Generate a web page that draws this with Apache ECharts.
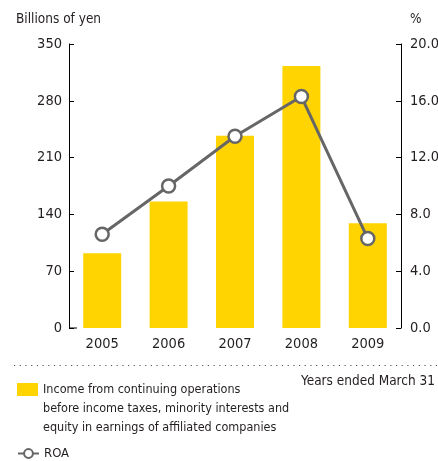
<!DOCTYPE html>
<html>
<head>
<meta charset="utf-8">
<script src="https://cdn.jsdelivr.net/npm/echarts@6/dist/echarts.min.js"></script>
<style>
  html, body { margin: 0; padding: 0; background: #fff; }
  #chart { width: 438px; height: 461px; }
</style>
</head>
<body>
<div id="chart"></div>
<script>
// Fiscal years (ended March 31)
const years = ['2005', '2006', '2007', '2008', '2009'];
// Income from continuing operations before income taxes etc., billions of yen
const incomeValues = [92, 156, 237, 323, 129];
// Return on assets, %
const roaValues = [6.6, 10.0, 13.5, 16.3, 6.3];
// Legend wording
const incomeName = 'Income from continuing operations before income taxes, minority interests and equity in earnings of affiliated companies';
const incomeLegendLines = [
  'Income from continuing operations',
  'before income taxes, minority interests and',
  'equity in earnings of affiliated companies'
];
const roaName = 'ROA';

const FONT = '"Liberation Sans Narrow", "DejaVu Sans Condensed", "Liberation Sans", sans-serif';
const TEXT = '#231f20';
const YELLOW = '#ffd400';
const GREY = '#666666';

const titleStyle = { fontFamily: FONT, fontSize: 13.5, fontWeight: 'normal', color: TEXT };

const chart = echarts.init(document.getElementById('chart'));
chart.setOption({
  animation: false,
  textStyle: { fontFamily: FONT },
  title: [
    { text: 'Billions of yen', left: 16, top: 12, padding: 0, textStyle: titleStyle },
    { text: '%', left: 410, top: 12, padding: 0, textStyle: titleStyle },
    { text: 'Years ended March 31', right: 3, top: 374, padding: 0, textStyle: titleStyle }
  ],
  grid: { left: 69, right: 37, top: 44, bottom: 133, outerBoundsMode: 'none' },
  legend: [
    {
      // two blank lines first, so the swatch sits beside the first line of text
      data: [{ name: incomeName, icon: 'rect' }], left: 17, top: 342, padding: 0,
      itemWidth: 21, itemHeight: 13, selectedMode: false,
      formatter: () => '\n\n' + incomeLegendLines.join('\n'),
      textStyle: { fontFamily: FONT, fontSize: 12.5, color: TEXT, lineHeight: 19 }
    },
    {
      data: [roaName], left: 17, top: 447, padding: 0,
      itemWidth: 21, itemHeight: 11, selectedMode: false,
      textStyle: { fontFamily: FONT, fontSize: 13, color: TEXT }
    }
  ],
  xAxis: {
    type: 'category', data: years,
    axisLine: { show: false }, axisTick: { show: false },
    axisLabel: { color: TEXT, fontSize: 14.5, margin: 9, fontFamily: FONT }
  },
  yAxis: [
    {
      type: 'value', min: 0, max: 350, interval: 70, position: 'left',
      axisLine: { show: true, lineStyle: { color: '#000', width: 1 } },
      axisTick: { show: true, inside: true, length: 5, lineStyle: { color: '#000' } },
      axisLabel: { color: TEXT, fontSize: 14.5, margin: 7, fontFamily: FONT },
      splitLine: { show: false }
    },
    {
      type: 'value', min: 0, max: 20, interval: 4, position: 'right',
      axisLine: { show: true, lineStyle: { color: '#000', width: 1 } },
      axisTick: { show: true, inside: true, length: 5, lineStyle: { color: '#000' } },
      axisLabel: { color: TEXT, fontSize: 14.5, margin: 9, fontFamily: FONT,
        formatter: v => v.toFixed(1) },
      splitLine: { show: false }
    }
  ],
  series: [
    {
      name: incomeName, type: 'bar', data: incomeValues, yAxisIndex: 0,
      barWidth: 38, itemStyle: { color: YELLOW }
    },
    {
      name: roaName, type: 'line', data: roaValues, yAxisIndex: 1, z: 5,
      symbol: 'circle', symbolSize: 13,
      lineStyle: { color: GREY, width: 3 },
      itemStyle: { color: '#fff', borderColor: GREY, borderWidth: 2.5 }
    }
  ]
});

// Longer zero tick on the left axis and the dotted separator under the axis labels
const zeroY = chart.convertToPixel({ yAxisIndex: 0 }, 0);
const leftX = chart.getModel().getComponent('grid').coordinateSystem.getRect().x;
chart.setOption({
  graphic: [
    { type: 'line', shape: { x1: leftX, y1: zeroY, x2: leftX + 8, y2: zeroY },
      style: { stroke: '#000', lineWidth: 1 }, z: 10 },
    { type: 'line', shape: { x1: 14, y1: 365.5, x2: 438, y2: 365.5 },
      style: { stroke: '#555', lineWidth: 1.2, lineDash: [1.2, 4.5] } }
  ]
});
</script>
</body>
</html>
